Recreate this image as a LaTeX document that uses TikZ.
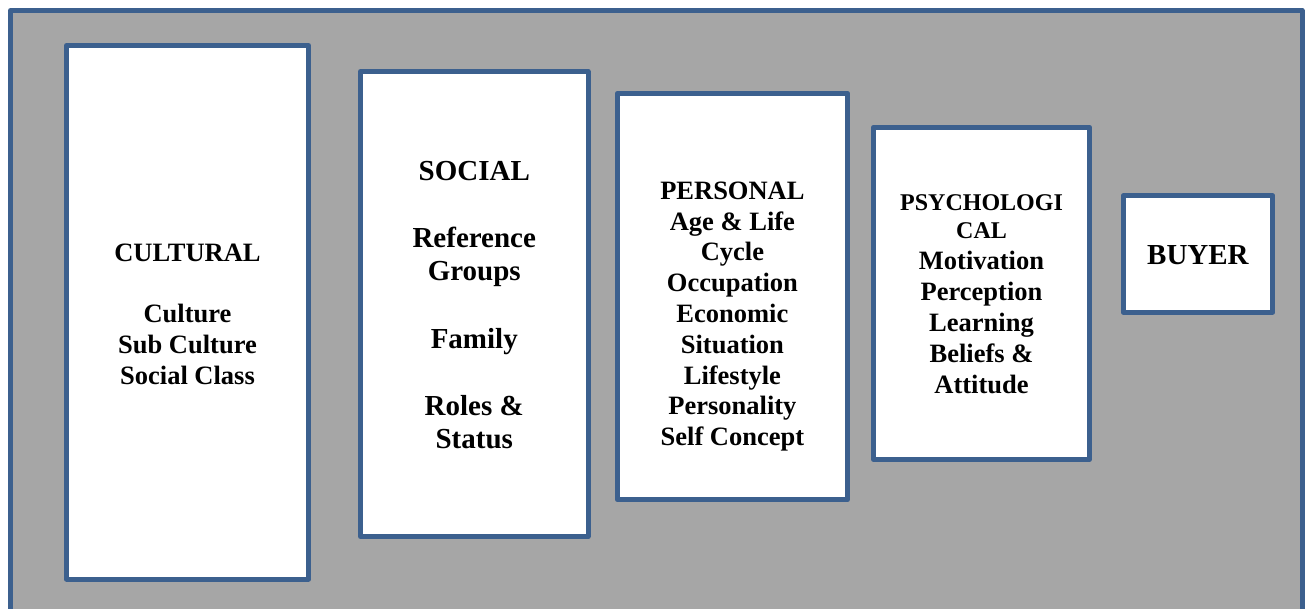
\documentclass[tikz,border=0pt]{standalone}
\usepackage{fontspec}
\setmainfont{Liberation Serif}
\definecolor{frameblue}{RGB}{60,96,142}
\definecolor{panelgray}{RGB}{166,166,166}
\begin{document}
\begin{tikzpicture}[x=1pt,y=-1pt,
  factorbox/.style={draw=frameblue, line width=5pt, fill=white, line join=round,
    rectangle, inner sep=0pt, outer sep=0pt},
  factortext/.style={align=center, inner sep=0pt, font=\bfseries\fontsize{26.5}{30.8}\selectfont},
  bigtext/.style={align=center, inner sep=0pt, font=\bfseries\fontsize{29}{33.6}\selectfont}]
\useasboundingbox (0,0) rectangle (1305,609);
% background panel
\node[draw=frameblue, line width=5pt, fill=panelgray, line join=round, rectangle,
  inner sep=0pt, minimum width=1291.5pt, minimum height=605.5pt] (frame) at (656.25,313.25) {};
% factor boxes
\node[factorbox, minimum width=242pt, minimum height=533.5pt] (cultural) at (187.5,312.25) {};
\node[factorbox, minimum width=227.5pt, minimum height=465pt] (social) at (474.25,304) {};
\node[factorbox, minimum width=230.2pt, minimum height=406.4pt] (personal) at (732.4,296.5) {};
\node[factorbox, minimum width=216pt, minimum height=332pt] (psychological) at (981.5,293.3) {};
\node[factorbox, minimum width=149.8pt, minimum height=116pt] (buyer) at (1197.9,254) {};
% box contents
\node[factortext] (culturaltext) at (187.5,314.3)
  {CULTURAL\\[30.8pt]Culture\\Sub Culture\\Social Class};
\node[bigtext] (socialtext) at (474.25,305)
  {SOCIAL\\[33.6pt]Reference\\Groups\\[33.6pt]Family\\[33.6pt]Roles \&\\Status};
\node[factortext] (personaltext) at (732.4,316.5)
  {PERSONAL\\Age \& Life\\Cycle\\Occupation\\Economic\\Situation\\Lifestyle\\Personality\\Self Concept};
\node[factortext, font=\bfseries\fontsize{26.5}{31}\selectfont] (psychtext) at (981.5,293.9)
  {{\fontsize{24}{28}\selectfont PSYCHOLOGI}\\[-3pt]{\fontsize{24}{28}\selectfont CAL}\\Motivation\\Perception\\Learning\\Beliefs \&\\Attitude};
\node[bigtext] (buyertext) at (1197.9,255.5) {BUYER};
\end{tikzpicture}
\end{document}
